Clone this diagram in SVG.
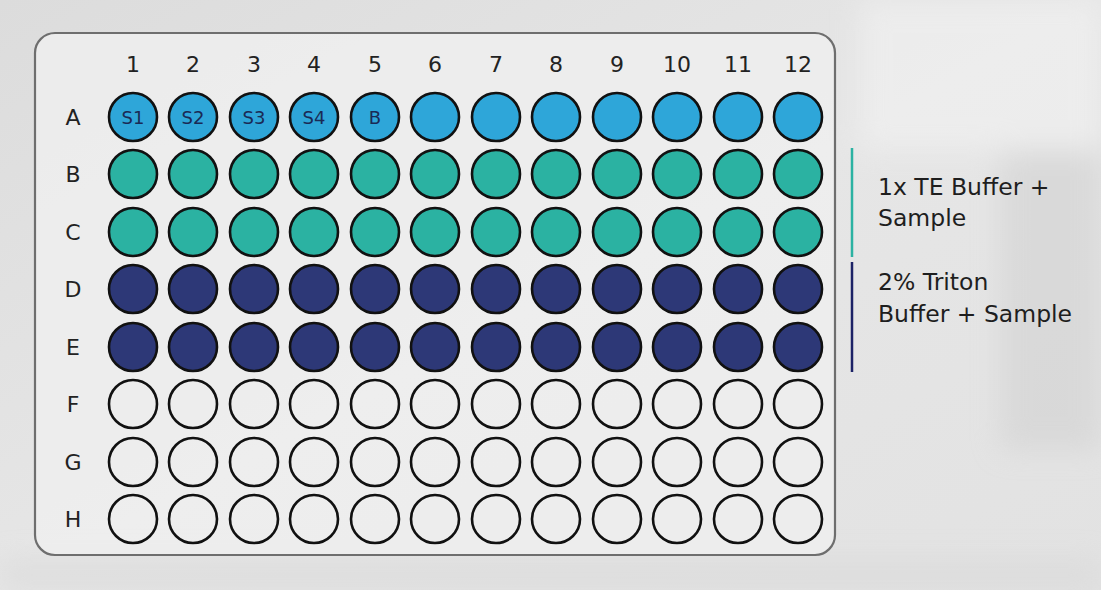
<svg xmlns="http://www.w3.org/2000/svg" width="1101" height="590" viewBox="0 0 1101 590">
<defs>
<linearGradient id="bg" x1="0" y1="0" x2="1" y2="1">
<stop offset="0" stop-color="#dcdcdc"/>
<stop offset="0.5" stop-color="#e6e6e6"/>
<stop offset="1" stop-color="#e2e2e2"/>
</linearGradient>
<filter id="blur" x="-50%" y="-50%" width="200%" height="200%"><feGaussianBlur stdDeviation="14"/></filter>
<style>
.w{stroke:#111;stroke-width:2.6}
.a{fill:#2ea6d9}
.b{fill:#2bb2a2}
.d{fill:#2d3877}
.e{fill:none}
.lbl{font-family:"DejaVu Sans",Verdana,sans-serif;font-size:22px;fill:#222;text-anchor:middle}
.in{font-family:"DejaVu Sans",Verdana,sans-serif;font-size:18px;fill:#1a2a55;text-anchor:middle}
.leg{font-family:"DejaVu Sans",Verdana,sans-serif;font-size:23.5px;fill:#1e1e1e}
</style>
</defs>
<rect width="1101" height="590" fill="url(#bg)"/>
<g filter="url(#blur)" opacity="0.6">
<rect x="860" y="0" width="241" height="150" fill="#f2f2f2"/>
<rect x="1000" y="150" width="101" height="300" fill="#d2d2d2"/>
<rect x="0" y="560" width="1101" height="30" fill="#d8d8d8"/>
</g>
<rect x="35" y="33" width="800" height="522" rx="20" fill="#efefef" fill-opacity="0.85" stroke="#6e6e6e" stroke-width="2.2"/>
<g id="col-labels">
<text class="lbl" x="133" y="72">1</text><text class="lbl" x="193" y="72">2</text><text class="lbl" x="254" y="72">3</text><text class="lbl" x="314" y="72">4</text><text class="lbl" x="375" y="72">5</text><text class="lbl" x="435" y="72">6</text><text class="lbl" x="496" y="72">7</text><text class="lbl" x="556" y="72">8</text><text class="lbl" x="617" y="72">9</text><text class="lbl" x="677" y="72">10</text><text class="lbl" x="738" y="72">11</text><text class="lbl" x="798" y="72">12</text>
</g>
<g id="row-labels">
<text class="lbl" x="73" y="125">A</text><text class="lbl" x="73" y="182">B</text><text class="lbl" x="73" y="240">C</text><text class="lbl" x="73" y="297">D</text><text class="lbl" x="73" y="355">E</text><text class="lbl" x="73" y="412">F</text><text class="lbl" x="73" y="470">G</text><text class="lbl" x="73" y="527">H</text>
</g>
<g id="row-A">
<g id="A1"><circle class="w a" cx="133" cy="117" r="24"/><text class="in" x="133" y="124">S1</text></g>
<g id="A2"><circle class="w a" cx="193" cy="117" r="24"/><text class="in" x="193" y="124">S2</text></g>
<g id="A3"><circle class="w a" cx="254" cy="117" r="24"/><text class="in" x="254" y="124">S3</text></g>
<g id="A4"><circle class="w a" cx="314" cy="117" r="24"/><text class="in" x="314" y="124">S4</text></g>
<g id="A5"><circle class="w a" cx="375" cy="117" r="24"/><text class="in" x="375" y="124">B</text></g>
<g id="A6"><circle class="w a" cx="435" cy="117" r="24"/></g>
<g id="A7"><circle class="w a" cx="496" cy="117" r="24"/></g>
<g id="A8"><circle class="w a" cx="556" cy="117" r="24"/></g>
<g id="A9"><circle class="w a" cx="617" cy="117" r="24"/></g>
<g id="A10"><circle class="w a" cx="677" cy="117" r="24"/></g>
<g id="A11"><circle class="w a" cx="738" cy="117" r="24"/></g>
<g id="A12"><circle class="w a" cx="798" cy="117" r="24"/></g>
</g>
<g id="row-B">
<circle class="w b" cx="133" cy="174" r="24"/><circle class="w b" cx="193" cy="174" r="24"/><circle class="w b" cx="254" cy="174" r="24"/><circle class="w b" cx="314" cy="174" r="24"/><circle class="w b" cx="375" cy="174" r="24"/><circle class="w b" cx="435" cy="174" r="24"/><circle class="w b" cx="496" cy="174" r="24"/><circle class="w b" cx="556" cy="174" r="24"/><circle class="w b" cx="617" cy="174" r="24"/><circle class="w b" cx="677" cy="174" r="24"/><circle class="w b" cx="738" cy="174" r="24"/><circle class="w b" cx="798" cy="174" r="24"/>
</g>
<g id="row-C">
<circle class="w b" cx="133" cy="232" r="24"/><circle class="w b" cx="193" cy="232" r="24"/><circle class="w b" cx="254" cy="232" r="24"/><circle class="w b" cx="314" cy="232" r="24"/><circle class="w b" cx="375" cy="232" r="24"/><circle class="w b" cx="435" cy="232" r="24"/><circle class="w b" cx="496" cy="232" r="24"/><circle class="w b" cx="556" cy="232" r="24"/><circle class="w b" cx="617" cy="232" r="24"/><circle class="w b" cx="677" cy="232" r="24"/><circle class="w b" cx="738" cy="232" r="24"/><circle class="w b" cx="798" cy="232" r="24"/>
</g>
<g id="row-D">
<circle class="w d" cx="133" cy="289" r="24"/><circle class="w d" cx="193" cy="289" r="24"/><circle class="w d" cx="254" cy="289" r="24"/><circle class="w d" cx="314" cy="289" r="24"/><circle class="w d" cx="375" cy="289" r="24"/><circle class="w d" cx="435" cy="289" r="24"/><circle class="w d" cx="496" cy="289" r="24"/><circle class="w d" cx="556" cy="289" r="24"/><circle class="w d" cx="617" cy="289" r="24"/><circle class="w d" cx="677" cy="289" r="24"/><circle class="w d" cx="738" cy="289" r="24"/><circle class="w d" cx="798" cy="289" r="24"/>
</g>
<g id="row-E">
<circle class="w d" cx="133" cy="347" r="24"/><circle class="w d" cx="193" cy="347" r="24"/><circle class="w d" cx="254" cy="347" r="24"/><circle class="w d" cx="314" cy="347" r="24"/><circle class="w d" cx="375" cy="347" r="24"/><circle class="w d" cx="435" cy="347" r="24"/><circle class="w d" cx="496" cy="347" r="24"/><circle class="w d" cx="556" cy="347" r="24"/><circle class="w d" cx="617" cy="347" r="24"/><circle class="w d" cx="677" cy="347" r="24"/><circle class="w d" cx="738" cy="347" r="24"/><circle class="w d" cx="798" cy="347" r="24"/>
</g>
<g id="row-F">
<circle class="w e" cx="133" cy="404" r="24"/><circle class="w e" cx="193" cy="404" r="24"/><circle class="w e" cx="254" cy="404" r="24"/><circle class="w e" cx="314" cy="404" r="24"/><circle class="w e" cx="375" cy="404" r="24"/><circle class="w e" cx="435" cy="404" r="24"/><circle class="w e" cx="496" cy="404" r="24"/><circle class="w e" cx="556" cy="404" r="24"/><circle class="w e" cx="617" cy="404" r="24"/><circle class="w e" cx="677" cy="404" r="24"/><circle class="w e" cx="738" cy="404" r="24"/><circle class="w e" cx="798" cy="404" r="24"/>
</g>
<g id="row-G">
<circle class="w e" cx="133" cy="462" r="24"/><circle class="w e" cx="193" cy="462" r="24"/><circle class="w e" cx="254" cy="462" r="24"/><circle class="w e" cx="314" cy="462" r="24"/><circle class="w e" cx="375" cy="462" r="24"/><circle class="w e" cx="435" cy="462" r="24"/><circle class="w e" cx="496" cy="462" r="24"/><circle class="w e" cx="556" cy="462" r="24"/><circle class="w e" cx="617" cy="462" r="24"/><circle class="w e" cx="677" cy="462" r="24"/><circle class="w e" cx="738" cy="462" r="24"/><circle class="w e" cx="798" cy="462" r="24"/>
</g>
<g id="row-H">
<circle class="w e" cx="133" cy="519" r="24"/><circle class="w e" cx="193" cy="519" r="24"/><circle class="w e" cx="254" cy="519" r="24"/><circle class="w e" cx="314" cy="519" r="24"/><circle class="w e" cx="375" cy="519" r="24"/><circle class="w e" cx="435" cy="519" r="24"/><circle class="w e" cx="496" cy="519" r="24"/><circle class="w e" cx="556" cy="519" r="24"/><circle class="w e" cx="617" cy="519" r="24"/><circle class="w e" cx="677" cy="519" r="24"/><circle class="w e" cx="738" cy="519" r="24"/><circle class="w e" cx="798" cy="519" r="24"/>
</g>
<g id="legend-te">
<line x1="852" y1="148" x2="852" y2="257" stroke="#2bb2a2" stroke-width="2.5"/>
<text class="leg" x="878" y="195">1x TE Buffer +</text>
<text class="leg" x="878" y="226">Sample</text>
</g>
<g id="legend-triton">
<line x1="852" y1="262" x2="852" y2="372" stroke="#1c2266" stroke-width="2.5"/>
<text class="leg" x="878" y="290">2% Triton</text>
<text class="leg" x="878" y="322">Buffer + Sample</text>
</g>
</svg>
